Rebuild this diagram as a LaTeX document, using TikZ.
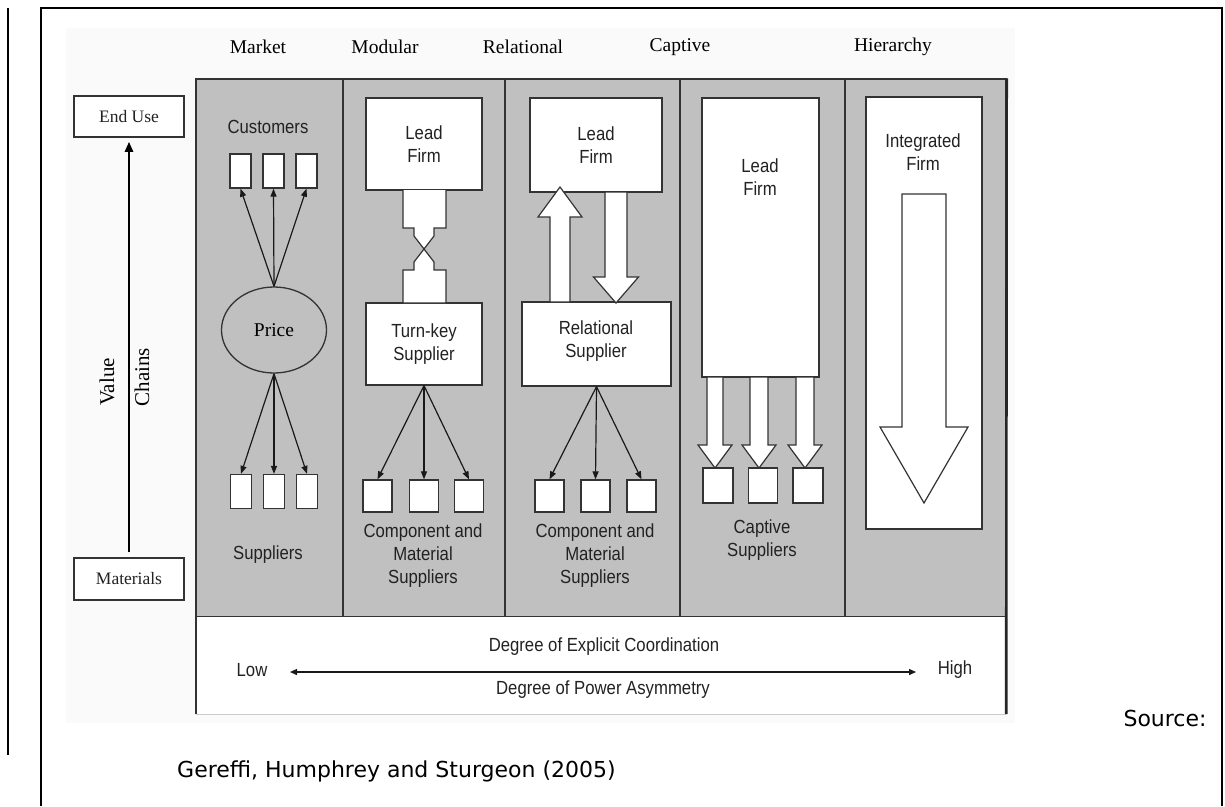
\documentclass[tikz,border=0pt]{standalone}
\usepackage{fontspec}
\setmainfont{Liberation Serif}
\setsansfont{Liberation Sans}[FakeStretch=0.88]
\newfontfamily\srcfont{DejaVu Sans}
\usetikzlibrary{arrows.meta,shapes.geometric}
\definecolor{panelgray}{HTML}{C0C0C0}
\definecolor{edge}{HTML}{333333}
\definecolor{ink}{HTML}{222222}
\definecolor{figbg}{HTML}{FAFAFA}

% block arrow: x, y of shaft start, y of head base, y of tip, shaft half width, head half width
\newcommand\fatarrow[6]{%
  \filldraw[fill=white, draw=edge, line width=1.2pt]
    (#1-#5,#2) -- (#1-#5,#3) -- (#1-#6,#3) -- (#1,#4) -- (#1+#6,#3) -- (#1+#5,#3) -- (#1+#5,#2) -- cycle;}

\begin{document}
\begin{tikzpicture}[x=1pt,y=-1pt,line join=miter,
  colbox/.style={fill=panelgray, draw=edge, line width=1.4pt, inner sep=0pt, minimum height=538pt},
  wbox/.style={fill=white, draw=edge, line width=1.3pt, inner sep=0pt},
  sbox/.style={wbox, minimum width=21pt, minimum height=34pt},
  qbox/.style={wbox, minimum width=29pt, minimum height=32pt},
  lbl/.style={font=\sffamily\fontsize{19}{23}\selectfont, text=ink, align=center, inner sep=0pt},
  hdr/.style={font=\fontsize{19.5}{23}\selectfont, inner sep=0pt},
  serif/.style={font=\fontsize{17.5}{21}\selectfont, text=ink, inner sep=0pt},
  thinarrow/.style={draw=black!90, line width=1.2pt, -{Triangle[length=8pt,width=6pt]}}]
\useasboundingbox (0,0) rectangle (1225,806);
\fill[white] (0,0) rectangle (1225,806);

% page frame
\draw[line width=2.4pt] (8,8) -- (8,755);
\draw[line width=2.4pt] (41,806) -- (41,8) -- (1222,8) -- (1222,806);

% figure background
\fill[figbg] (66,28) rectangle (1015,723);

% column headers
\node[hdr] (hMarket) at (258,47) {Market};
\node[hdr] (hModular) at (385,47) {Modular};
\node[hdr] (hRelational) at (523,47) {Relational};
\node[hdr] (hCaptive) at (680,47) {Captive};
\node[hdr] (hHierarchy) at (893,47) {Hierarchy};

% value chain axis
\node[wbox, minimum width=110pt, minimum height=41pt, line width=1.5pt, serif] (enduse) at (129,116.5) {End Use};
\node[wbox, minimum width=110pt, minimum height=42pt, line width=1.5pt, serif] (materials) at (129,579) {Materials};
\draw[line width=2.4pt, -{Triangle[length=10pt,width=8pt]}, shorten <=5pt, shorten >=4pt] (materials.north) -- (enduse.south);
\node[font=\fontsize{21}{24}\selectfont, rotate=90, inner sep=0pt] (value) at (107,382) {Value};
\node[font=\fontsize{21}{24}\selectfont, rotate=90, inner sep=0pt] (chains) at (142,377) {Chains};

% columns
\node[colbox, minimum width=147pt] (colMarket) at (269.5,348) {};
\node[colbox, minimum width=162pt] (colModular) at (424,348) {};
\node[colbox, minimum width=175pt] (colRelational) at (592.5,348) {};
\node[colbox, minimum width=165pt] (colCaptive) at (762.5,348) {};
\node[colbox, minimum width=161pt] (colHierarchy) at (925.5,348) {};

% coordination scale panel
\node[fill=white, minimum width=810pt, minimum height=97pt, inner sep=0pt] (scale) at (601,665.5) {};
\draw[edge, line width=1.4pt] (scale.north west) -- (scale.south west);
\draw[black!20, line width=1.4pt] (scale.south west) -- (scale.south east);
\draw[black!85, line width=2.6pt] (colHierarchy.north east) -- (scale.south east);

% ---- Market ----
\node[lbl] (customers) at (268,127) {Customers};
\node[sbox] (c1) at (240.5,171) {};
\node[sbox] (c2) at (273.5,171) {};
\node[sbox] (c3) at (306.5,171) {};
\node[ellipse, fill=panelgray, draw=edge, line width=1.3pt, minimum width=105pt, minimum height=86pt, inner sep=0pt,
      font=\fontsize{19.5}{23}\selectfont] (price) at (274,330) {Price};
\node[sbox] (s1) at (241,491.5) {};
\node[sbox] (s2) at (274,491.5) {};
\node[sbox] (s3) at (307,491.5) {};
\node[lbl] (suppliers) at (268,555) {Suppliers};
\foreach \i in {1,2,3} {
  \draw[thinarrow] (price.north) -- (c\i.south);
  \draw[thinarrow] (price.south) -- (s\i.north);
}

% ---- Modular ----
\node[wbox, minimum width=116pt, minimum height=92pt, lbl] (leadMod) at (424,144) {Lead\\Firm};
\node[wbox, minimum width=116pt, minimum height=82pt, lbl] (turnkey) at (424,344) {Turn-key\\Supplier};
\filldraw[fill=white, draw=edge, line width=1.2pt, even odd rule]
  (403,190) -- (403,228) -- (414,228) -- (414,236) -- (434,262) -- (434,270) -- (446,270) -- (446,303)
  -- (403,303) -- (403,270) -- (414,270) -- (414,262) -- (434,236) -- (434,228) -- (446,228) -- (446,190);
\node[qbox] (m1) at (377.5,496) {};
\node[qbox] (m2) at (424,496) {};
\node[qbox] (m3) at (469,496) {};
\foreach \i in {1,2,3} \draw[thinarrow] (turnkey.south) -- (m\i.north);
\node[lbl] (compMod) at (423,556) {Component and\\Material\\Suppliers};

% ---- Relational ----
\node[wbox, minimum width=132pt, minimum height=94pt, lbl] (leadRel) at (596,145) {Lead\\Firm};
\node[wbox, minimum width=149pt, minimum height=84pt] (relsup) at (596.5,344) {};
\node[lbl] (relsupText) at (596,341) {Relational\\Supplier};
\fatarrow{560}{302}{217}{187}{10}{22}
\fatarrow{616}{192}{277}{303}{11}{22.5}
\node[qbox] (r1) at (549.5,496) {};
\node[qbox] (r2) at (595.5,496) {};
\node[qbox] (r3) at (641.5,496) {};
\foreach \i in {1,2,3} \draw[thinarrow] (relsup.south) -- (r\i.north);
\node[lbl] (compRel) at (595,556) {Component and\\Material\\Suppliers};

% ---- Captive ----
\node[wbox, minimum width=117pt, minimum height=279pt] (leadCap) at (760.5,237.5) {};
\node[lbl] (leadCapText) at (760,177.5) {Lead\\Firm};
\fatarrow{715}{377}{445}{468}{8}{17}
\fatarrow{759}{377}{445}{468}{9}{17}
\fatarrow{805}{377}{445}{468}{9}{17}
\node[wbox, minimum width=30pt, minimum height=35pt] (k1) at (718,485.5) {};
\node[wbox, minimum width=29pt, minimum height=35pt] (k2) at (763,485.5) {};
\node[wbox, minimum width=30pt, minimum height=35pt] (k3) at (808,485.5) {};
\node[lbl, text depth=0pt] (captiveSup) at (762,538.5) {Captive\\Suppliers};

% ---- Hierarchy ----
\node[wbox, minimum width=116pt, minimum height=432pt] (integrated) at (924,313) {};
\node[lbl] (integratedText) at (923,152.5) {Integrated\\Firm};
\fatarrow{924}{194}{427}{503}{22}{44}

% ---- coordination scale ----
\node[lbl] (coord) at (604,647) {Degree of Explicit Coordination};
\node[lbl] (power) at (603,690) {Degree of Power Asymmetry};
\node[lbl] (low) at (252,670) {Low};
\node[lbl] (high) at (955,670) {High};
\coordinate (lowEnd) at (290,672);
\coordinate (highEnd) at (916,672);
\draw[black!90, line width=1.4pt, {Triangle[length=7pt,width=6pt]}-{Triangle[length=7pt,width=6pt]}] (lowEnd) -- (highEnd);

% source
\node[font=\srcfont\fontsize{22}{26}\selectfont, inner sep=0pt] (source) at (1165,718) {Source:};
\node[font=\srcfont\fontsize{22}{26}\selectfont, inner sep=0pt, anchor=west] (citation) at (177,771) {Gereffi, Humphrey and Sturgeon (2005)};
\end{tikzpicture}
\end{document}
